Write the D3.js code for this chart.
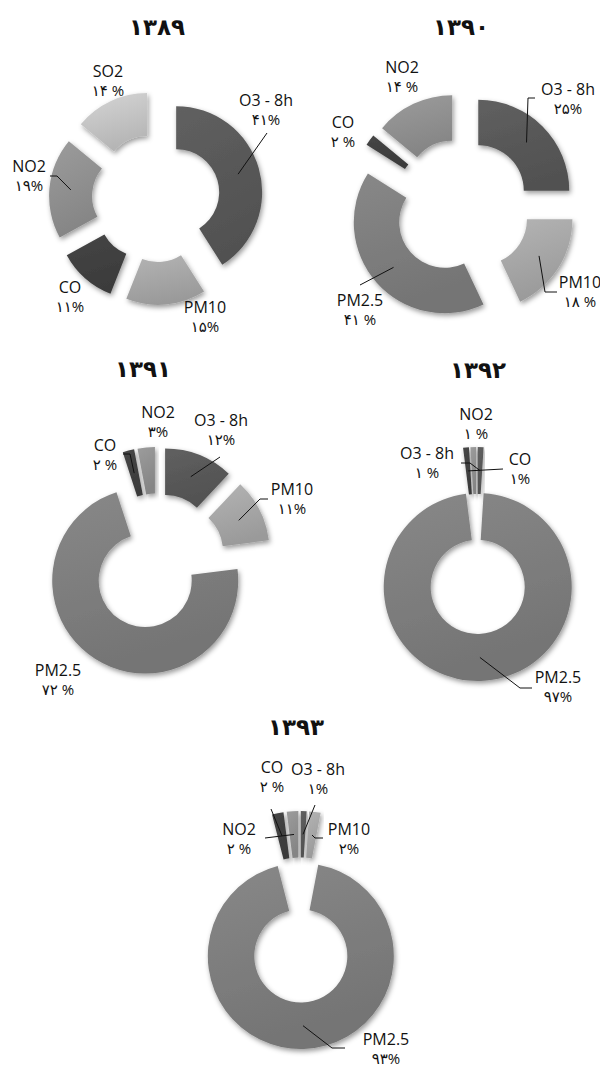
<!DOCTYPE html>
<html>
<head>
<meta charset="utf-8">
<script src="https://cdn.jsdelivr.net/npm/d3@7"></script>
<style>
  body { margin: 0; background: #fff; }
  text { font-family: "Open Sans", "DejaVu Sans", sans-serif; fill: #111; }
</style>
</head>
<body>
<script>
// series order used by every chart (clockwise from 12 o'clock)
const pollutants = ["O3 - 8h", "PM10", "PM2.5", "CO", "NO2", "SO2"];
const years = ["۱۳۸۹", "۱۳۹۰", "۱۳۹۱", "۱۳۹۲", "۱۳۹۳"];

// percent share per pollutant, same order as pollutants
const share1389 = [41, 15, 0, 11, 19, 14];
const share1390 = [25, 18, 41, 2, 14, 0];
const share1391 = [12, 11, 72, 2, 3, 0];
const share1392 = [1, 0, 97, 1, 1, 0];
const share1393 = [1, 2, 93, 2, 2, 0];
const series = [share1389, share1390, share1391, share1392, share1393];

// grey per pollutant
const greys = ["#595959", "#a8a8a8", "#7f7f7f", "#414141", "#919191", "#c6c6c6"];

// where each doughnut sits, and its label placement (offsets from the doughnut centre)
const layout = [
  { cx: 156, cy: 198, R: 86, explode: 21, title: [157, 35], labels: {
      "O3 - 8h": { at: [110, -92], leader: [[111, -65]] },
      "PM10":    { at: [49, 115] },
      "CO":      { at: [-86, 95] },
      "NO2":     { at: [-127, -26], leader: [[-106, -22], [-99, -22]] },
      "SO2":     { at: [-48, -121], sp: true } } },
  { cx: 462, cy: 207, R: 91, explode: 23, title: [461, 35], labels: {
      "O3 - 8h": { at: [106, -112], leader: [[73, -109], [66, -109]] },
      "PM10":    { at: [118, 81], leader: [[95, 85], [83, 85]], sp: true },
      "PM2.5":   { at: [-102, 99], leader: [[-102, 78]], sp: true },
      "CO":      { at: [-119, -79], sp: true },
      "NO2":     { at: [-60, -134], sp: true } } },
  { cx: 157, cy: 562, R: 93, explode: 22, title: [143, 377], labels: {
      "O3 - 8h": { at: [64, -136], leader: [[63, -105]] },
      "PM10":    { at: [135, -67], leader: [[111, -63], [103, -63]] },
      "PM2.5":   { at: [-99, 114], sp: true },
      "CO":      { at: [-52, -111], leader: [[-34, -108], [-27, -108]], sp: true },
      "NO2":     { at: [1, -144] } } },
  { cx: 477, cy: 564, R: 94, explode: 23, title: [478, 378], labels: {
      "O3 - 8h": { at: [-50, -105], leader: [[-16, -101], [-7, -101]], sp: true },
      "PM2.5":   { at: [81, 119], leader: [[55, 124], [43, 124]] },
      "CO":      { at: [43, -99], leader: [[26, -95]] },
      "NO2":     { at: [-1, -144], sp: true } } },
  { cx: 300, cy: 930, R: 93, explode: 26, title: [296, 735], labels: {
      "O3 - 8h": { at: [18, -155], leader: [[15, -125]] },
      "PM10":    { at: [49, -95], leader: [[23, -92], [15, -92]] },
      "PM2.5":   { at: [86, 115], leader: [[45, 118], [32, 118]] },
      "CO":      { at: [-28, -157], leader: [[-29, -121]], sp: true },
      "NO2":     { at: [-61, -95], leader: [[-35, -92]], sp: true } } }
];

const fa = n => String(n).replace(/\d/g, c => "۰۱۲۳۴۵۶۷۸۹"[c]);

const svg = d3.select("body").append("svg")
  .attr("width", 600)
  .attr("height", 1071);

const defs = svg.append("defs");
defs.append("filter")
  .attr("id", "shadow")
  .attr("x", "-20%").attr("y", "-20%")
  .attr("width", "140%").attr("height", "140%")
  .append("feDropShadow")
  .attr("dx", 1.5).attr("dy", 2.5)
  .attr("stdDeviation", 2.5)
  .attr("flood-color", "#000")
  .attr("flood-opacity", 0.4);

greys.forEach((c, k) => {
  const grad = defs.append("linearGradient")
    .attr("id", "grad" + k)
    .attr("x1", 0).attr("y1", 0).attr("x2", 0.3).attr("y2", 1);
  grad.append("stop").attr("offset", "0%").attr("stop-color", d3.color(c).brighter(0.2));
  grad.append("stop").attr("offset", "100%").attr("stop-color", d3.color(c).darker(0.25));
});

const pie = d3.pie().sort(null).value(d => d.v);

layout.forEach((L, i) => {
  const rows = pollutants.map((name, k) => ({ name, k, v: series[i][k] }))
    .filter(d => d.v > 0);
  const arcs = pie(rows);
  const arc = d3.arc().innerRadius(L.R * 0.5).outerRadius(L.R);

  // exploded slices move out along their mid angle
  const shift = d => {
    const m = (d.startAngle + d.endAngle) / 2;
    return [L.explode * Math.sin(m), -L.explode * Math.cos(m)];
  };

  const g = svg.append("g").attr("transform", `translate(${L.cx},${L.cy})`);

  g.selectAll("path.slice")
    .data(arcs)
    .join("path")
    .attr("class", "slice")
    .attr("d", arc)
    .attr("transform", d => `translate(${shift(d)})`)
    .attr("fill", d => `url(#grad${d.data.k})`)
    .attr("filter", "url(#shadow)");

  // leader lines end at the slice centroid
  const line = d3.line();
  arcs.forEach(d => {
    const lab = L.labels[d.data.name];
    if (!lab || !lab.leader) return;
    const c = arc.centroid(d), s = shift(d);
    const pts = lab.leader.concat([[c[0] + s[0], c[1] + s[1]]]);
    g.append("path")
      .attr("d", line(pts))
      .attr("fill", "none")
      .attr("stroke", "#111")
      .attr("stroke-width", 1);
  });

  arcs.forEach(d => {
    const lab = L.labels[d.data.name];
    if (!lab) return;
    const t = g.append("text")
      .attr("text-anchor", "middle")
      .attr("x", lab.at[0])
      .attr("y", lab.at[1]);
    t.append("tspan")
      .attr("x", lab.at[0])
      .style("font-size", "16px")
      .text(d.data.name);
    t.append("tspan")
      .attr("x", lab.at[0])
      .attr("dy", 19)
      .style("font-size", "15px")
      .attr("direction", "ltr")
      .text(fa(d.data.v) + (lab.sp ? " %" : "%"));
  });

  svg.append("text")
    .attr("x", L.title[0])
    .attr("y", L.title[1])
    .attr("text-anchor", "middle")
    .style("font-family", "'DejaVu Sans', sans-serif")
    .style("font-size", "23px")
    .style("font-weight", "bold")
    .text(years[i]);
});
</script>
</body>
</html>
